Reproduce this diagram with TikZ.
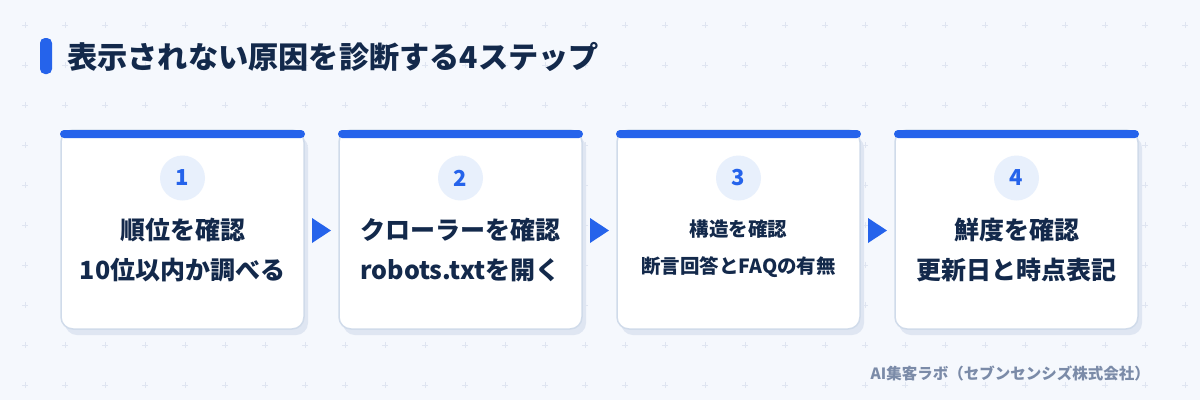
\documentclass[tikz,border=0pt]{standalone}
\usepackage{fontspec}
\setmainfont{Noto Sans CJK JP}
\usetikzlibrary{calc}
\definecolor{bgc}{HTML}{F5F8FD}
\definecolor{plusc}{HTML}{DFE5F1}
\definecolor{mainblue}{HTML}{2563EB}
\definecolor{navy}{HTML}{13294B}
\definecolor{circc}{HTML}{E8F0FC}
\definecolor{borderc}{HTML}{D0DBEA}
\definecolor{shadowc}{HTML}{DFE6F2}
\definecolor{footc}{HTML}{7B8BA8}
\tikzset{
  plusmark/.style={draw=plusc, line width=1pt},
  cardbox/.style={rectangle, rounded corners=12pt, fill=white, draw=borderc, line width=1.5pt, minimum width=243pt, minimum height=199pt, inner sep=0pt, outer sep=0pt},
  cardshadow/.style={rectangle, rounded corners=12pt, fill=shadowc, minimum width=243pt, minimum height=199pt, inner sep=0pt},
  topbar/.style={rectangle, rounded corners=4pt, fill=mainblue, minimum width=245pt, minimum height=8pt, inner sep=0pt},
  numcirc/.style={circle, fill=circc, minimum size=45pt, inner sep=0pt, text=mainblue, font=\bfseries\fontsize{22}{24}\selectfont},
  cardtext/.style={align=center, text=navy, font=\bfseries\fontsize{25}{40}\selectfont, inner sep=0pt},
  cardtextsmall/.style={align=center, text=navy, font=\bfseries\fontsize{19.5}{37}\selectfont, inner sep=0pt},
  steparrow/.style={fill=mainblue},
}
\begin{document}
\begin{tikzpicture}[x=1pt,y=-1pt]
\fill[bgc] (0,0) rectangle (1200,400);
\useasboundingbox (0,0) rectangle (1200,400);
\foreach \x in {25,65,...,1185} {
  \foreach \y in {25,65,...,385} {
    \draw[plusmark] (\x-3,\y) -- (\x+3,\y) (\x,\y-3) -- (\x,\y+3);
  }
}
% title
\node[rectangle, rounded corners=5pt, fill=mainblue, minimum width=12pt, minimum height=36pt, inner sep=0pt] (tbar) at (46,56) {};
\node[anchor=west, inner sep=0pt, text=navy, font=\bfseries\fontsize{30.2}{36}\selectfont] (title) at (67,57) {表示されない原因を診断する4ステップ};
% cards
\foreach \i/\cx in {1/182.5,2/460.5,3/738.5,4/1016.5} {
  \node[cardshadow] (s\i) at (\cx+4,235.5) {};
  \node[cardbox] (c\i) at (\cx,229.5) {};
  \node[topbar] (b\i) at (\cx,134) {};
  \node[numcirc] (n\i) at (\cx,178) {\i};
}
\node[cardtext] (t1) at (182.5,250) {順位を確認\\10位以内か調べる};
\node[cardtext] (t2) at (460.5,250) {クローラーを確認\\robots.txtを開く};
\node[cardtextsmall] (t3) at (738.5,249) {構造を確認\\断言回答とFAQの有無};
\node[cardtext] (t4) at (1016.5,250) {鮮度を確認\\更新日と時点表記};
% arrows
\foreach \a/\b in {1/2,2/3,3/4} {
  \coordinate (m\a) at ($(c\a.east)!0.5!(c\b.west)+(0,1)$);
  \fill[steparrow] ([shift={(-9.5,-12.5)}]m\a) -- ([shift={(-9.5,12.5)}]m\a) -- ([shift={(9.5,0)}]m\a) -- cycle;
}
% footer
\node[anchor=east, inner sep=0pt, text=footc, font=\bfseries\fontsize{15.5}{18}\selectfont] (foot) at (1150,373) {AI集客ラボ（セブンセンシズ株式会社）};
\end{tikzpicture}
\end{document}
